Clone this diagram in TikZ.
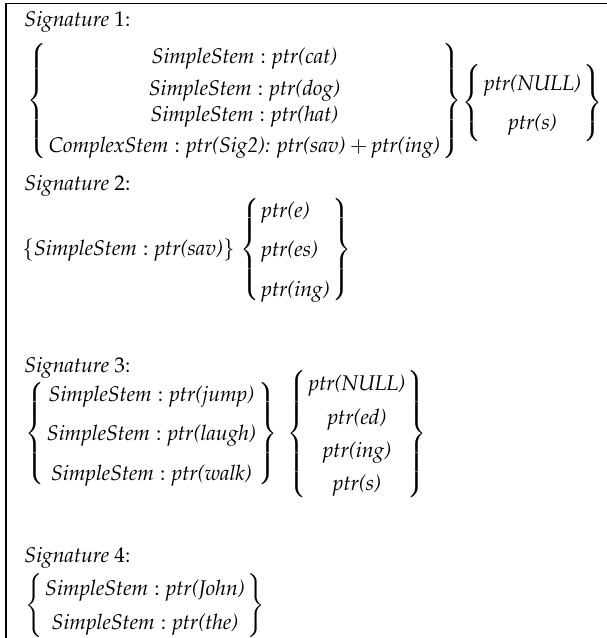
\documentclass[tikz,border=0pt]{standalone}
\usepackage{amsmath, amssymb}
\usepackage[T1]{fontenc}
\usepackage{mathpazo}
\usepackage{tikz}
\usetikzlibrary{positioning}

\setlength{\arraycolsep}{1pt}
\renewcommand{\arraystretch}{1.3}
\newcommand{\ptrto}[1]{\textit{ptr(#1)}}
\newcommand{\sstem}{\textit{SimpleStem}}

\begin{document}
\begin{tikzpicture}[x=0.47pt,y=-0.47pt,
    siglabel/.style={anchor=base west,inner sep=0pt},
    group/.style={anchor=west,inner sep=0pt},
    node distance=2pt]
    \useasboundingbox (0,0) rectangle (607,638);

    % Frame
    \draw[line width=0.9pt] (6,638) -- (6,3.5) -- (607,3.5);

    % Signature 1
    \node[siglabel] (sig1) at (24,27) {\textit{Signature} 1:};
    \node[group] (s1stems) at (27,101) {$\left\{\begin{array}{c}
        \sstem:\ptrto{cat}\\[-0.5pt]
        \sstem:\ptrto{dog}\\[-3.5pt]
        \sstem:\ptrto{hat}\\[-1pt]
        \textit{ComplexStem}:\textit{ptr(Sig2): ptr(sav)}+\ptrto{ing}
        \end{array}\right\}$};
    \node[group,right=0pt of s1stems,yshift=-1pt] (s1suf) {$\left\{\begin{array}{c}
        \ptrto{NULL}\\[2.9pt]
        \ptrto{s}
        \end{array}\right\}$};

    % Signature 2
    \node[siglabel] (sig2) at (24,190) {\textit{Signature} 2:};
    \node[group] (s2stem) at (22,250) {$\{\sstem:\ptrto{sav}\}$};
    \node[group,right=of s2stem] (s2suf) {$\left\{\begin{array}{l}
        \ptrto{e}\\[3pt]
        \ptrto{es}\\[3pt]
        \ptrto{ing}
        \end{array}\right\}$};

    % Signature 3
    \node[siglabel] (sig3) at (24,372) {\textit{Signature} 3:};
    \node[group] (s3stems) at (25,434) {$\left\{\begin{array}{c}
        \sstem:\ptrto{jump}\\[2.9pt]
        \sstem:\ptrto{laugh}\\[2.9pt]
        \sstem:\ptrto{walk}
        \end{array}\right\}$};
    \node[group,right=4pt of s3stems] (s3suf) {$\left\{\begin{array}{c}
        \ptrto{NULL}\\
        \ptrto{ed}\\
        \ptrto{ing}\\
        \ptrto{s}
        \end{array}\right\}$};

    % Signature 4
    \node[siglabel] (sig4) at (24,562) {\textit{Signature} 4:};
    \node[group] (s4stems) at (25,606) {$\left\{\begin{array}{c}
        \sstem:\ptrto{John}\\[0.6pt]
        \sstem:\ptrto{the}
        \end{array}\right\}$};
\end{tikzpicture}
\end{document}
